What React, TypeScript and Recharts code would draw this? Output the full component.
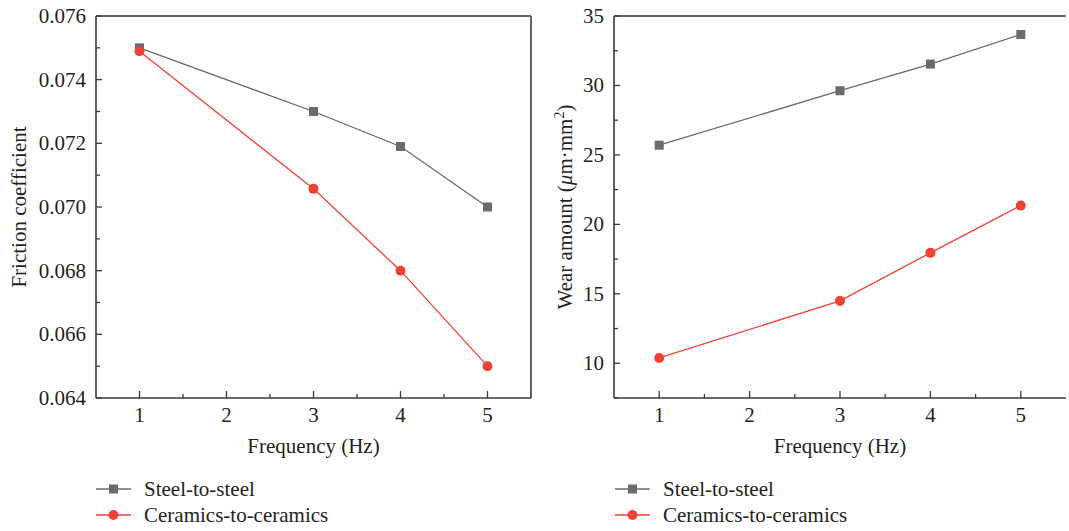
import React from "react";
import { LineChart, Line, XAxis, YAxis, Legend, ReferenceLine, Label } from "recharts";

// ---------- data ----------
const frequencies = [1, 3, 4, 5];
const seriesNames = ["Steel-to-steel", "Ceramics-to-ceramics"];
const frictionSteel = [0.075, 0.073, 0.0719, 0.07];
const frictionCeramic = [0.07489, 0.07057, 0.068, 0.065];
const wearSteel = [25.7, 29.62, 31.54, 33.67];
const wearCeramic = [10.38, 14.49, 17.95, 21.35];

const xMajorTicks = [1, 2, 3, 4, 5];
const xMinorTicks = [1.5, 2.5, 3.5, 4.5];
const frictionMajorTicks = [0.064, 0.066, 0.068, 0.07, 0.072, 0.074, 0.076];
const frictionMinorTicks = [0.065, 0.067, 0.069, 0.071, 0.073, 0.075];
const wearMajorTicks = [10, 15, 20, 25, 30, 35];
const wearMinorTicks = [7.5, 12.5, 17.5, 22.5, 27.5, 32.5];

const frictionData = frequencies.map((f, i) => ({ f, steel: frictionSteel[i], ceramic: frictionCeramic[i] }));
const wearData = frequencies.map((f, i) => ({ f, steel: wearSteel[i], ceramic: wearCeramic[i] }));

// ---------- style ----------
const FONT = "'Liberation Serif', 'DejaVu Serif', serif";
const TEXT = "#231f20";
const AXIS = "#3a3a3a";
const GREY = "#6b6b6b";
const RED = "#ef4136";
const FS = 21;

const isIn = (v: number, arr: number[]) => arr.some((a) => Math.abs(a - v) < 1e-9);

const makeXTick = () => (props: any) => {
  const { x, y, payload } = props;
  const major = isIn(payload.value, xMajorTicks);
  return (
    <g>
      <line x1={x} x2={x} y1={y} y2={y - (major ? 7 : 4)} stroke={AXIS} strokeWidth={1.3} />
      {major && (
        <text x={x} y={y + 24} textAnchor="middle" fontFamily={FONT} fontSize={FS} fill={TEXT}>
          {payload.value}
        </text>
      )}
    </g>
  );
};

const makeYTick = (majors: number[], fmt: (v: number) => string) => (props: any) => {
  const { x, y, payload } = props;
  const major = isIn(payload.value, majors);
  return (
    <g>
      <line x1={x} x2={x + (major ? 6 : 4)} y1={y} y2={y} stroke={AXIS} strokeWidth={1.3} />
      {major && (
        <text x={x - 10} y={y + 7} textAnchor="end" fontFamily={FONT} fontSize={FS} fill={TEXT}>
          {fmt(payload.value)}
        </text>
      )}
    </g>
  );
};

const SquareDot = (props: any) => {
  const { cx, cy, index } = props;
  if (cx == null || cy == null) return <g key={index} />;
  return <rect key={index} x={cx - 4.5} y={cy - 4.5} width={9} height={9} fill={GREY} />;
};

const CircleDot = (props: any) => {
  const { cx, cy, index } = props;
  if (cx == null || cy == null) return <g key={index} />;
  return <circle key={index} cx={cx} cy={cy} r={5} fill={RED} />;
};

const LegendContent = () => (
  <div style={{ fontFamily: FONT, fontSize: FS, color: TEXT, lineHeight: "26px" }}>
    {seriesNames.map((name, i) => (
      <div key={name} style={{ display: "flex", alignItems: "center", height: 26 }}>
        <svg width={48} height={26} style={{ display: "block" }}>
          <line x1={0} x2={35} y1={13} y2={13} stroke={i === 0 ? GREY : RED} strokeWidth={1.3} />
          {i === 0 ? (
            <rect x={13} y={8.5} width={9} height={9} fill={GREY} />
          ) : (
            <circle cx={17.5} cy={13} r={5} fill={RED} />
          )}
        </svg>
        <span style={{ whiteSpace: "nowrap" }}>{name}</span>
      </div>
    ))}
  </div>
);

const XLabel = (props: any) => {
  const vb = props.viewBox || {};
  return (
    <text x={vb.x + vb.width / 2} y={vb.y + 55} textAnchor="middle" fontFamily={FONT} fontSize={FS} fill={TEXT}>
      Frequency (Hz)
    </text>
  );
};

const FrictionYLabel = (props: any) => {
  const vb = props.viewBox || {};
  const cx = 26;
  const cy = vb.y + vb.height / 2;
  return (
    <text x={cx} y={cy} transform={`rotate(-90 ${cx} ${cy})`} textAnchor="middle" fontFamily={FONT} fontSize={FS} fill={TEXT}>
      Friction coefficient
    </text>
  );
};

const WearYLabel = (props: any) => {
  const vb = props.viewBox || {};
  const cx = 32;
  const cy = vb.y + vb.height / 2;
  return (
    <text x={cx} y={cy} transform={`rotate(-90 ${cx} ${cy})`} textAnchor="middle" fontFamily={FONT} fontSize={FS} fill={TEXT}>
      Wear amount (<tspan fontStyle="italic">μ</tspan>m·mm
      <tspan dy={-8} fontSize={14}>2</tspan>
      <tspan dy={8}>)</tspan>
    </text>
  );
};

const axisLine = { stroke: AXIS, strokeWidth: 1.6 };

export default function App() {
  return (
    <div style={{ position: "absolute", left: 0, top: 0, width: 1069, height: 531, background: "#fff" }}>
      <div style={{ position: "absolute", left: 0, top: 0 }}>
        <LineChart width={540} height={531} data={frictionData} margin={{ top: 16, right: 9, left: 0, bottom: 73 }}>
          <XAxis
            dataKey="f"
            type="number"
            domain={[0.5, 5.5]}
            ticks={[...xMajorTicks, ...xMinorTicks]}
            interval={0}
            tickSize={0}
            tickMargin={0}
            tickLine={false}
            tick={makeXTick()}
            axisLine={axisLine}
            height={60}
          >
            <Label content={XLabel} />
          </XAxis>
          <YAxis
            type="number"
            domain={[0.064, 0.076]}
            ticks={[...frictionMajorTicks, ...frictionMinorTicks]}
            interval={0}
            tickSize={0}
            tickMargin={0}
            tickLine={false}
            tick={makeYTick(frictionMajorTicks, (v) => v.toFixed(3))}
            axisLine={axisLine}
            width={96}
          >
            <Label content={FrictionYLabel} />
          </YAxis>
          <ReferenceLine y={0.076} stroke={AXIS} strokeWidth={1.6} ifOverflow="visible" />
          <ReferenceLine x={5.5} stroke={AXIS} strokeWidth={1.6} ifOverflow="visible" />
          <Line dataKey="steel" name={seriesNames[0]} stroke={GREY} strokeWidth={1.3} dot={SquareDot} isAnimationActive={false} />
          <Line dataKey="ceramic" name={seriesNames[1]} stroke={RED} strokeWidth={1.3} dot={CircleDot} isAnimationActive={false} />
          <Legend
            layout="horizontal"
            verticalAlign="middle"
            align="center"
            content={LegendContent}
            wrapperStyle={{ left: 96, top: 476, width: 400, height: 52 }}
          />
        </LineChart>
      </div>
      <div style={{ position: "absolute", left: 540, top: 0 }}>
        <LineChart width={529} height={531} data={wearData} margin={{ top: 16, right: 3, left: 0, bottom: 73 }}>
          <XAxis
            dataKey="f"
            type="number"
            domain={[0.5, 5.5]}
            ticks={[...xMajorTicks, ...xMinorTicks]}
            interval={0}
            tickSize={0}
            tickMargin={0}
            tickLine={false}
            tick={makeXTick()}
            axisLine={axisLine}
            height={60}
          >
            <Label content={XLabel} />
          </XAxis>
          <YAxis
            type="number"
            domain={[7.5, 35]}
            ticks={[...wearMajorTicks, ...wearMinorTicks]}
            interval={0}
            tickSize={0}
            tickMargin={0}
            tickLine={false}
            tick={makeYTick(wearMajorTicks, (v) => String(v))}
            axisLine={axisLine}
            width={74}
          >
            <Label content={WearYLabel} />
          </YAxis>
          <ReferenceLine y={35} stroke={AXIS} strokeWidth={1.6} ifOverflow="visible" />
          <Line dataKey="steel" name={seriesNames[0]} stroke={GREY} strokeWidth={1.3} dot={SquareDot} isAnimationActive={false} />
          <Line dataKey="ceramic" name={seriesNames[1]} stroke={RED} strokeWidth={1.3} dot={CircleDot} isAnimationActive={false} />
          <Legend
            layout="horizontal"
            verticalAlign="middle"
            align="center"
            content={LegendContent}
            wrapperStyle={{ left: 75, top: 476, width: 400, height: 52 }}
          />
        </LineChart>
      </div>
    </div>
  );
}
